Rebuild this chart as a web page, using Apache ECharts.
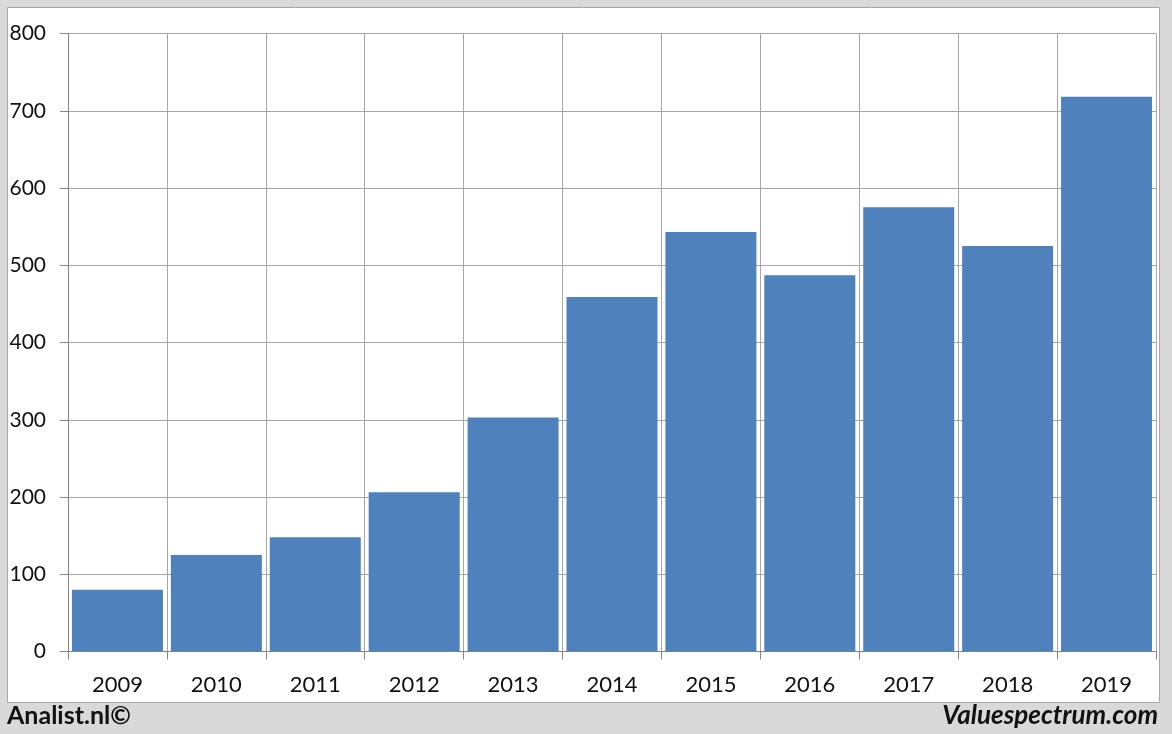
<!DOCTYPE html>
<html>
<head>
<meta charset="utf-8">
<script src="https://cdn.jsdelivr.net/npm/echarts@6/dist/echarts.min.js"></script>
<style>
html,body{margin:0;padding:0;background:#d9d9d9;}
#chart{width:1172px;height:734px;}
</style>
</head>
<body>
<div id="chart"></div>
<script>
var categories = ['2009','2010','2011','2012','2013','2014','2015','2016','2017','2018','2019'];
var values = [80, 125, 148, 206, 303, 459, 543, 487, 575, 525, 718];
var yTicks = [0, 100, 200, 300, 400, 500, 600, 700, 800];

var chart = echarts.init(document.getElementById('chart'), null, {renderer: 'canvas'});
var font = 'Lato, "Open Sans", sans-serif';
chart.setOption({
  animation: false,
  backgroundColor: '#d9d9d9',
  graphic: [
    {type: 'rect', z: -10, silent: true, shape: {x: 7.5, y: 7.5, width: 1152, height: 695},
     style: {fill: '#ffffff', stroke: '#a6a6a6', lineWidth: 1}},
    {type: 'text', left: 7, top: 703, style: {text: 'Analist.nl©', font: 'bold 25px ' + font, fill: '#111'}},
    {type: 'text', right: 14, top: 703, style: {text: 'Valuespectrum.com', font: 'italic bold 26px ' + font, fill: '#111'}}
  ],
  grid: {left: 68, right: 16, top: 33.5, bottom: 82.5, containLabel: false},
  xAxis: {
    type: 'category',
    data: categories,
    boundaryGap: true,
    axisLine: {show: true, lineStyle: {color: '#868686', width: 1}},
    axisTick: {show: true, length: 8, lineStyle: {color: '#868686'}},
    splitLine: {show: true, lineStyle: {color: '#a6a6a6', width: 1}},
    axisLabel: {color: '#111', fontSize: 22, fontFamily: font, margin: 22}
  },
  yAxis: {
    type: 'value',
    min: yTicks[0], max: yTicks[yTicks.length - 1], interval: 100,
    axisLine: {show: true, lineStyle: {color: '#868686', width: 1}},
    axisTick: {show: true, length: 8, lineStyle: {color: '#868686'}},
    splitLine: {show: true, lineStyle: {color: '#a6a6a6', width: 1}},
    axisLabel: {color: '#111', fontSize: 21, fontFamily: font, margin: 22}
  },
  series: [{
    type: 'bar',
    data: values,
    barCategoryGap: '8%',
    itemStyle: {color: '#4f81bd'}
  }]
});
</script>
</body>
</html>
